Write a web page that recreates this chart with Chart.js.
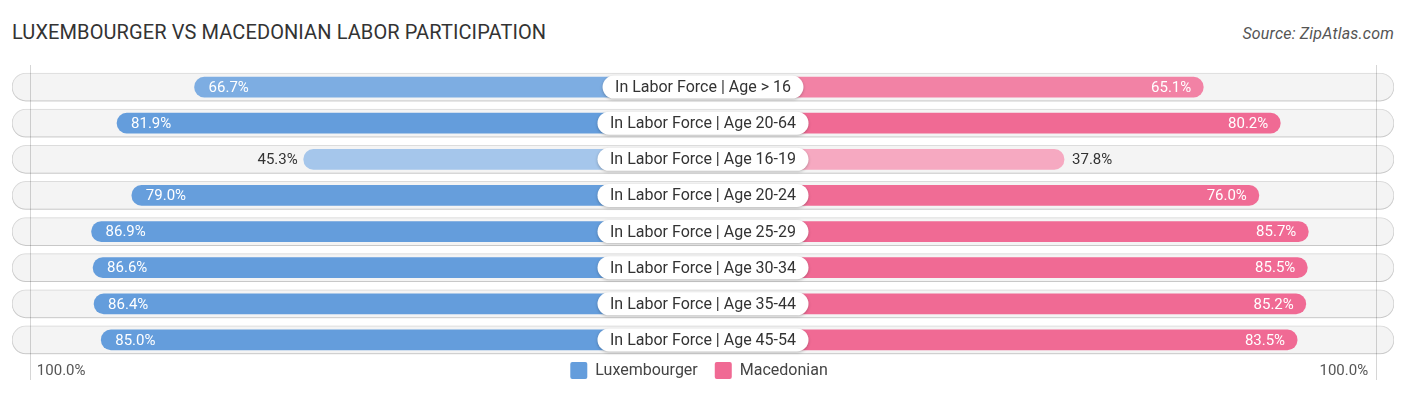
<!DOCTYPE html>
<html><head><meta charset="utf-8">
<script src="https://cdn.jsdelivr.net/npm/chart.js@4/dist/chart.umd.min.js"></script>
<style>
html,body{margin:0;padding:0;background:#fff;width:1406px;height:395px;overflow:hidden;font-family:Roboto,sans-serif}
#wrap{position:relative;width:1406px;height:395px}
#title{position:absolute;left:12px;top:20px;font-size:20px;color:#333;white-space:nowrap;font-family:Roboto,sans-serif;letter-spacing:0.1px}
#source{position:absolute;right:12px;top:24px;font-size:16px;font-style:italic;color:#555;white-space:nowrap;letter-spacing:0.2px}
canvas{position:absolute;left:0;top:0}
</style></head>
<body><div id="wrap">
<div id="title">LUXEMBOURGER VS MACEDONIAN LABOR PARTICIPATION</div>
<div id="source">Source: ZipAtlas.com</div>
<canvas id="c" width="1406" height="395"></canvas>
</div>
<script>
const categories = ["In Labor Force | Age > 16","In Labor Force | Age 20-64","In Labor Force | Age 16-19","In Labor Force | Age 20-24","In Labor Force | Age 25-29","In Labor Force | Age 30-34","In Labor Force | Age 35-44","In Labor Force | Age 45-54"];
const luxembourger = [66.7, 81.9, 45.3, 79.0, 86.9, 86.6, 86.4, 85.0];
const macedonian = [65.1, 80.2, 37.8, 76.0, 85.7, 85.5, 85.2, 83.5];
const seriesNames = ["Luxembourger", "Macedonian"];
const axisTickLabels = ["100.0%", "100.0%"];

const OFF = 33;       // room for the centre label, in value units
const XMAX = 135.5;   // half-width of the row pills, in value units
const GRID = 132;     // position of the edge grid lines

const BLUE = [100,157,220], PINK = [240,106,148];
function shade(base, i){
  const v = Math.max(luxembourger[i], macedonian[i]);
  const f = Math.max(0, (80 - v) / 80) * 0.97;
  const c = base.map(x => Math.round(x + (255 - x) * f));
  return `rgb(${c[0]},${c[1]},${c[2]})`;
}
const rgb = c => `rgb(${c[0]},${c[1]},${c[2]})`;

const decor = {
  id: 'decor',
  beforeDatasetDraw(chart, args){
    if (args.index === 0){
      const ctx = chart.ctx; ctx.save();
      ctx.shadowColor = 'rgba(0,0,0,0.18)'; ctx.shadowBlur = 3; ctx.shadowOffsetY = 1;
    }
  },
  afterDatasetDraw(chart, args){
    if (args.index === 0) chart.ctx.restore();
  },
  afterDatasetsDraw(chart){
    const ctx = chart.ctx, xs = chart.scales.x;
    const metaL = chart.getDatasetMeta(1), metaR = chart.getDatasetMeta(2);
    // grid lines
    ctx.save();
    ctx.strokeStyle = 'rgba(0,0,0,0.16)'; ctx.lineWidth = 1;
    [-GRID, GRID].forEach(g => {
      const x = Math.round(xs.getPixelForValue(g)) + 0.5;
      ctx.beginPath(); ctx.moveTo(x, 65); ctx.lineTo(x, 380); ctx.stroke();
    });
    ctx.restore();
    // value labels
    ctx.save();
    ctx.font = '15px Roboto'; ctx.textBaseline = 'middle';
    luxembourger.forEach((v, i) => {
      const el = metaL.data[i];
      const x = xs.getPixelForValue(-(OFF + v)), y = el.y;
      const s = v.toFixed(1) + '%';
      if (v > 55){ ctx.fillStyle = '#fff'; ctx.textAlign = 'left'; ctx.fillText(s, x + 14, y + 1); }
      else { ctx.fillStyle = '#333'; ctx.textAlign = 'right'; ctx.fillText(s, x - 6, y + 1); }
    });
    macedonian.forEach((v, i) => {
      const el = metaR.data[i];
      const x = xs.getPixelForValue(OFF + v), y = el.y;
      const s = v.toFixed(1) + '%';
      if (v > 55){ ctx.fillStyle = '#fff'; ctx.textAlign = 'right'; ctx.fillText(s, x - 12, y + 1); }
      else { ctx.fillStyle = '#333'; ctx.textAlign = 'left'; ctx.fillText(s, x + 8, y + 1); }
    });
    ctx.restore();
    // centre labels
    ctx.save();
    ctx.font = '16px Roboto'; ctx.textBaseline = 'middle'; ctx.textAlign = 'center';
    const cx = xs.getPixelForValue(0);
    categories.forEach((c, i) => {
      const y = metaL.data[i].y;
      const w = ctx.measureText(c).width + 25, h = 23;
      ctx.save();
      ctx.shadowColor = 'rgba(0,0,0,0.25)'; ctx.shadowBlur = 3; ctx.shadowOffsetY = 1;
      ctx.fillStyle = '#fff';
      ctx.beginPath(); ctx.roundRect(cx - w/2, y - h/2, w, h, h/2); ctx.fill();
      ctx.restore();
      ctx.fillStyle = '#333';
      ctx.fillText(c, cx, y + 1);
    });
    ctx.restore();
    // axis tick labels
    ctx.save();
    ctx.font = '15px Roboto'; ctx.fillStyle = '#555'; ctx.textBaseline = 'middle';
    ctx.textAlign = 'left'; ctx.fillText(axisTickLabels[0], xs.getPixelForValue(-GRID) + 7, 371);
    ctx.textAlign = 'right'; ctx.fillText(axisTickLabels[1], xs.getPixelForValue(GRID) - 8, 371);
    ctx.restore();
    // legend
    ctx.save();
    ctx.font = '16px Roboto'; ctx.textBaseline = 'middle'; ctx.textAlign = 'left';
    const cols = [rgb(BLUE), rgb(PINK)];
    const widths = seriesNames.map(n => 17 + 8 + ctx.measureText(n).width);
    const gap = 17;
    let x = cx - 4 - (widths[0] + widths[1] + gap) / 2;
    seriesNames.forEach((n, i) => {
      ctx.fillStyle = cols[i];
      ctx.beginPath(); ctx.roundRect(x, 362, 17, 17, 2); ctx.fill();
      ctx.fillStyle = '#444'; ctx.fillText(n, x + 25, 371);
      x += widths[i] + gap;
    });
    ctx.restore();
  }
};

new Chart(document.getElementById('c'), {
  type: 'bar',
  data: {
    labels: categories,
    datasets: [
      { label: 'row', data: categories.map(() => [-XMAX, XMAX]), backgroundColor: '#f4f4f4',
        borderColor: '#e2e2e2', borderWidth: 1, borderSkipped: false, borderRadius: 14,
        barThickness: 28, grouped: false, order: 3 },
      { label: seriesNames[0], data: luxembourger.map(v => [-(OFF + v), 0]),
        backgroundColor: luxembourger.map((v, i) => shade(BLUE, i)), borderSkipped: false, borderRadius: 10,
        barThickness: 20, grouped: false, order: 1 },
      { label: seriesNames[1], data: macedonian.map(v => [0, OFF + v]),
        backgroundColor: macedonian.map((v, i) => shade(PINK, i)), borderSkipped: false, borderRadius: 10,
        barThickness: 20, grouped: false, order: 2 }
    ]
  },
  options: {
    indexAxis: 'y', responsive: false, animation: false, devicePixelRatio: 1,
    layout: { padding: { left: 12, right: 12, top: 69, bottom: 37 } },
    scales: {
      x: { type: 'linear', min: -XMAX, max: XMAX, display: false },
      y: { display: false }
    },
    plugins: { legend: { display: false }, tooltip: { enabled: false }, title: { display: false } }
  },
  plugins: [decor]
});
</script>
</body></html>
